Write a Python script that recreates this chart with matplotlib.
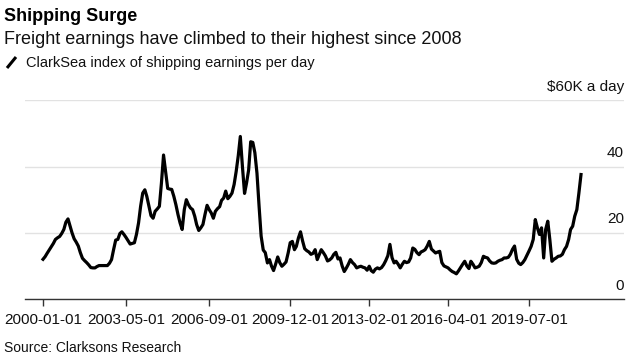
import numpy as np
import matplotlib
matplotlib.use("Agg")
import matplotlib.pyplot as plt
import matplotlib.transforms as mtransforms
from matplotlib.lines import Line2D

plt.rcParams['font.family'] = ['Liberation Sans', 'DejaVu Sans']

# ClarkSea index, $K per day, monthly from Jan 2000
y2000 = [12.0, 12.8, 13.8, 14.8, 15.8, 16.8, 18.0, 18.5, 18.9, 19.8, 21.0, 23.2]
y2001 = [24.2, 22.0, 20.0, 18.2, 17.2, 16.0, 14.0, 12.3, 11.6, 11.0, 10.3, 9.5]
y2002 = [9.4, 9.4, 9.8, 10.1, 10.1, 10.1, 10.1, 10.1, 10.8, 11.9, 15.0, 17.8]
y2003 = [18.0, 19.8, 20.3, 19.5, 18.6, 17.6, 16.6, 16.8, 17.0, 19.5, 23.0, 28.0]
y2004 = [32.0, 33.0, 31.0, 28.0, 25.2, 24.4, 26.5, 27.2, 28.0, 35.0, 43.5, 38.5]
y2005 = [33.4, 33.2, 33.1, 31.0, 28.5, 25.5, 23.0, 21.0, 27.0, 30.0, 28.5, 27.5]
y2006 = [27.0, 25.0, 22.5, 20.7, 21.5, 22.5, 25.5, 28.3, 27.0, 26.0, 24.4, 26.5]
y2007 = [27.3, 27.9, 29.8, 30.5, 32.6, 30.3, 31.0, 32.0, 34.6, 38.5, 43.3, 49.1]
y2008 = [40.0, 31.9, 35.0, 39.0, 47.5, 47.3, 44.2, 38.0, 28.0, 19.0, 14.8, 14.0]
y2009 = [10.9, 11.9, 10.0, 8.6, 10.5, 12.7, 11.0, 9.9, 10.5, 11.2, 13.9, 17.0]
y2010 = [17.4, 14.9, 15.9, 18.5, 20.3, 17.5, 15.2, 14.6, 14.2, 13.5, 13.8, 14.9]
y2011 = [11.9, 13.5, 14.9, 14.0, 13.0, 11.5, 11.8, 12.4, 13.5, 14.1, 12.1, 12.4]
y2012 = [10.0, 8.3, 9.3, 10.5, 11.9, 11.0, 10.4, 9.4, 9.7, 9.9, 9.6, 9.4]
y2013 = [8.7, 9.9, 8.6, 8.1, 9.0, 9.4, 9.1, 9.5, 10.4, 11.6, 13.1, 16.5]
y2014 = [12.5, 10.9, 11.4, 10.5, 9.4, 10.5, 11.4, 11.0, 11.2, 12.4, 15.4, 15.0]
y2015 = [14.0, 13.4, 14.2, 14.5, 14.9, 16.0, 17.4, 15.1, 14.5, 13.9, 14.2, 14.4]
y2016 = [11.0, 10.0, 9.7, 9.4, 8.8, 8.3, 8.0, 7.6, 8.5, 9.5, 10.5, 11.4]
y2017 = [10.0, 9.2, 11.4, 10.5, 9.4, 9.6, 9.9, 11.0, 12.9, 12.6, 12.4, 11.5]
y2018 = [10.9, 10.8, 10.9, 11.4, 11.7, 11.9, 12.4, 12.4, 12.6, 13.5, 15.0, 16.0]
y2019 = [12.0, 10.8, 10.4, 11.0, 11.9, 13.2, 14.5, 15.9, 18.0, 24.0, 21.5, 19.5]
y2020 = [21.5, 12.4, 21.0, 23.5, 18.0, 11.4, 12.0, 12.4, 12.9, 13.0, 13.5, 14.9]
y2021 = [15.9, 18.0, 21.0, 22.0, 25.0, 27.0, 32.0, 37.6]

values = (y2000 + y2001 + y2002 + y2003 + y2004 + y2005 + y2006 + y2007 +
          y2008 + y2009 + y2010 + y2011 + y2012 + y2013 + y2014 + y2015 +
          y2016 + y2017 + y2018 + y2019 + y2020 + y2021)
start_month = '2000-01'
dates = np.arange(np.datetime64(start_month), np.datetime64(start_month) + len(values),
                  dtype='datetime64[M]').astype('datetime64[D]')

xtick_labels = ['2000-01-01', '2003-05-01', '2006-09-01', '2009-12-01',
                '2013-02-01', '2016-04-01', '2019-07-01']
ytick_values = [0, 20, 40, 60]
ytick_labels = ['0', '20', '40', '$60K a day']

title = 'Shipping Surge'
subtitle = 'Freight earnings have climbed to their highest since 2008'
legend_label = 'ClarkSea index of shipping earnings per day'
source = 'Source: Clarksons Research'

W, H = 640, 364
fig = plt.figure(figsize=(W / 100, H / 100), dpi=100)
fig.patch.set_facecolor('white')
ax = fig.add_axes([25 / W, 65 / H, 599 / W, 198.6 / H])

ax.plot(dates, values, color='black', lw=2.3, solid_joinstyle='round', zorder=3)

ax.set_xlim(np.datetime64('1999-04-12'), np.datetime64('2023-04-23'))
ax.set_ylim(0, 60)

ax.set_xticks([np.datetime64(t) for t in xtick_labels])
ax.set_xticklabels(xtick_labels)
ax.tick_params(axis='x', length=5, width=1, color='#333333', pad=5,
               labelsize=11, labelcolor='#111111')

ax.set_yticks(ytick_values)
ax.tick_params(axis='y', length=0, labelleft=False, labelright=False)
ax.yaxis.grid(True, color='#e2e2e2', lw=1)
ax.set_axisbelow(True)

for s in ['top', 'right', 'left']:
    ax.spines[s].set_visible(False)
ax.spines['bottom'].set_color('#333333')
ax.spines['bottom'].set_linewidth(1)

trans = mtransforms.blended_transform_factory(ax.transAxes, ax.transData)
trans = mtransforms.offset_copy(trans, fig=fig, x=0, y=9.5, units='dots')
for v, lab in zip(ytick_values, ytick_labels):
    ax.text(1.0, v, lab, transform=trans, ha='right', va='baseline',
            fontsize=11, color='#111111')

fig.text(4 / W, 1 - 21 / H, title, fontsize=13, fontweight='bold', va='baseline')
fig.text(4 / W, 1 - 44 / H, subtitle, fontsize=13, va='baseline', color='#111111')
fig.add_artist(Line2D([7 / W, 16 / W], [1 - 68 / H, 1 - 57 / H], color='black',
                      lw=2.2, solid_capstyle='butt'))
fig.text(26 / W, 1 - 67 / H, legend_label, fontsize=10.5, va='baseline', color='#111111')
fig.text(4 / W, 1 - 352 / H, source, fontsize=10, va='baseline', color='#111111')

fig.savefig('out.png', dpi=100)
